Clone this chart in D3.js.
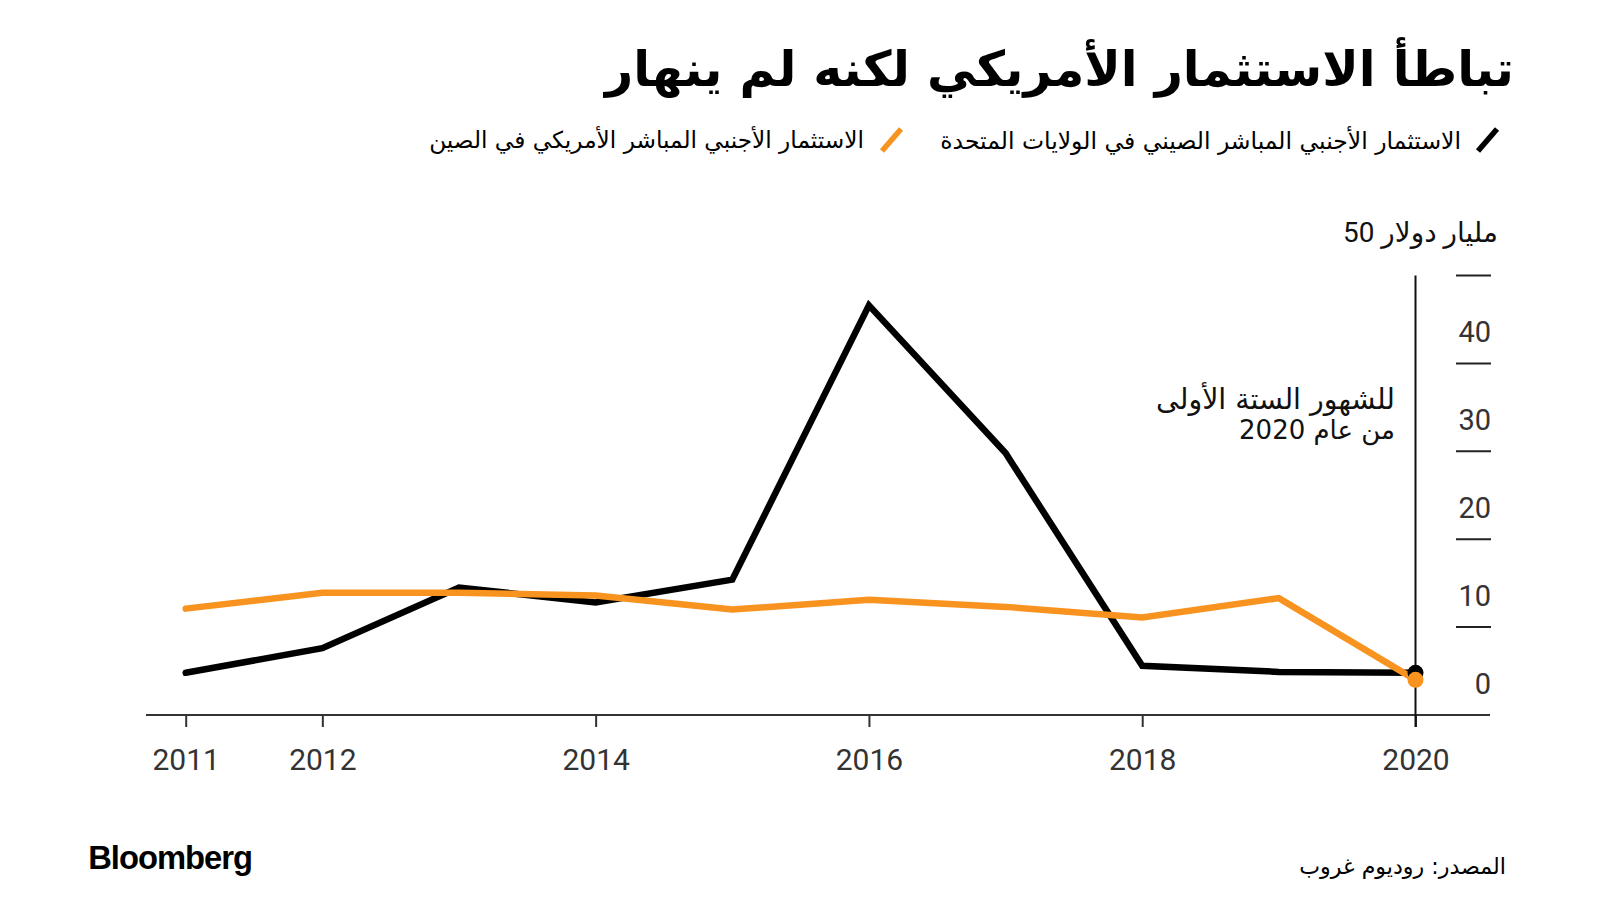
<!DOCTYPE html>
<html><head><meta charset="utf-8">
<script src="https://cdn.jsdelivr.net/npm/d3@7"></script>
<style>
html,body{margin:0;padding:0;background:#fff;}
svg{display:block;}
</style></head>
<body>
<svg id="c" width="1600" height="900"></svg>
<script>
const years = [2011, 2012, 2013, 2014, 2015, 2016, 2017, 2018, 2019, 2020];
const chinaFdiInUS = [4.8, 7.6, 14.5, 12.8, 15.4, 46.6, 29.8, 5.6, 4.9, 4.8];
const usFdiInChina = [12.1, 13.9, 13.9, 13.6, 12.0, 13.1, 12.3, 11.1, 13.3, 4.0];
const xTickValues = [2011, 2012, 2014, 2016, 2018, 2020];
const yTickValues = [0, 10, 20, 30, 40];
const yGridValues = [10, 20, 30, 40, 50];
const titleText = "تباطأ الاستثمار الأمريكي لكنه لم ينهار";
const legendLabels = ["الاستثمار الأجنبي المباشر الصيني في الولايات المتحدة", "الاستثمار الأجنبي المباشر الأمريكي في الصين"];
const unitLabel = "\u200E50 مليار دولار";
const noteLines = ["للشهور الستة الأولى", "من عام 2020"];
const sourceText = "المصدر: روديوم غروب";
const brandText = "Bloomberg";

const BLACK = "#000000", ORANGE = "#f7931e";
const AR = "'DejaVu Sans', 'Noto Sans', sans-serif";
const NUM = "Roboto, 'DejaVu Sans', sans-serif";

const svg = d3.select("#c");
const x = d3.scaleLinear().domain([2011, 2020]).range([185.7, 1415.5]);
const y = d3.scaleLinear().domain([0, 50]).range([715, 275.5]);

function placeText(t, right, cy, targetWidth) {
  if (targetWidth) {
    const fs = parseFloat(t.attr("font-size"));
    const w = t.node().getBBox().width;
    t.attr("font-size", fs * targetWidth / w);
  }
  const b = t.node().getBBox();
  const curX = +t.attr("x") || 0, curY = +t.attr("y") || 0;
  t.attr("x", curX + (right - (b.x + b.width)))
   .attr("y", curY + (cy - (b.y + b.height / 2)));
  return t;
}

// Title
const title = svg.append("text").text(titleText)
  .attr("direction", "rtl").attr("font-family", AR).attr("font-weight", "bold")
  .attr("font-size", 50).attr("fill", "#000");
placeText(title, 1514, 67, 912);

// Legend
const legend = [
  {label: legendLabels[0], color: BLACK, mark: 1478, right: 1461, width: 521},
  {label: legendLabels[1], color: ORANGE, mark: 882, right: 864, width: 435}
];
legend.forEach(d => {
  svg.append("line").attr("x1", d.mark).attr("y1", 151).attr("x2", d.mark + 19).attr("y2", 129)
    .attr("stroke", d.color).attr("stroke-width", 5.5).attr("stroke-linecap", "butt");
  const t = svg.append("text").text(d.label).attr("direction", "rtl")
    .attr("font-family", AR).attr("font-size", 22).attr("fill", "#000");
  placeText(t, d.right, 140, d.width);
});

// Unit label
const unit = svg.append("text").text(unitLabel).attr("direction", "ltr")
  .attr("font-family", NUM).attr("font-size", 26).attr("fill", "#111");
placeText(unit, 1498, 232, 155);

// Y short grid ticks
svg.append("g").selectAll("line").data(yGridValues).join("line")
  .attr("x1", 1456).attr("x2", 1491)
  .attr("y1", d => y(d)).attr("y2", d => y(d))
  .attr("stroke", "#222").attr("stroke-width", 2);

// Y tick labels
svg.append("g").selectAll("text").data(yTickValues).join("text")
  .attr("x", 1491).attr("y", d => y(d) - 31)
  .attr("text-anchor", "end").attr("dominant-baseline", "central")
  .attr("font-family", NUM).attr("font-size", 29).attr("fill", "#333")
  .text(d => d);

// X axis
const xAxis = d3.axisBottom(x).tickValues(xTickValues).tickSizeInner(12).tickSizeOuter(0)
  .tickPadding(22).tickFormat(d3.format("d"));
const gx = svg.append("g").attr("transform", "translate(0,715)").call(xAxis);
gx.select(".domain").remove();
gx.selectAll(".tick line").attr("stroke", "#333").attr("stroke-width", 2);
gx.selectAll(".tick text").attr("font-family", NUM).attr("font-size", 30).attr("fill", "#333");
svg.append("line").attr("x1", 146).attr("x2", 1490).attr("y1", 715).attr("y2", 715)
  .attr("stroke", "#333").attr("stroke-width", 2.2);

// Y axis vertical line
svg.append("line").attr("x1", x(2020)).attr("x2", x(2020)).attr("y1", y(50)).attr("y2", 727)
  .attr("stroke", "#111").attr("stroke-width", 2);

// Annotation
noteLines.forEach((s, i) => {
  const t = svg.append("text").text(s).attr("direction", "rtl")
    .attr("font-family", AR).attr("font-size", 26).attr("fill", "#111");
  placeText(t, 1395, 398 + i * 32, i === 0 ? 239 : null);
});

// Lines
const line = d3.line().x((d, i) => x(years[i])).y(d => y(d));
svg.append("path").datum(chinaFdiInUS).attr("d", line)
  .attr("fill", "none").attr("stroke", BLACK).attr("stroke-width", 6.5)
  .attr("stroke-linejoin", "miter").attr("stroke-linecap", "round");
svg.append("path").datum(usFdiInChina).attr("d", line)
  .attr("fill", "none").attr("stroke", ORANGE).attr("stroke-width", 6.5)
  .attr("stroke-linejoin", "miter").attr("stroke-linecap", "round");

// End dots
const last = years.length - 1;
svg.append("circle").attr("cx", x(years[last])).attr("cy", y(chinaFdiInUS[last])).attr("r", 8).attr("fill", BLACK);
svg.append("circle").attr("cx", x(years[last])).attr("cy", y(usFdiInChina[last])).attr("r", 8).attr("fill", ORANGE);

// Footer
const brand = svg.append("text").text(brandText).attr("font-family", "'Liberation Sans', Arial, sans-serif")
  .attr("font-weight", "bold").attr("font-size", 30).attr("fill", "#000").attr("letter-spacing", -1);
placeText(brand, 252, 857, 163);
const src = svg.append("text").text(sourceText).attr("direction", "rtl")
  .attr("font-family", AR).attr("font-size", 20).attr("fill", "#000");
placeText(src, 1506, 866, 207);
</script>
</body></html>
